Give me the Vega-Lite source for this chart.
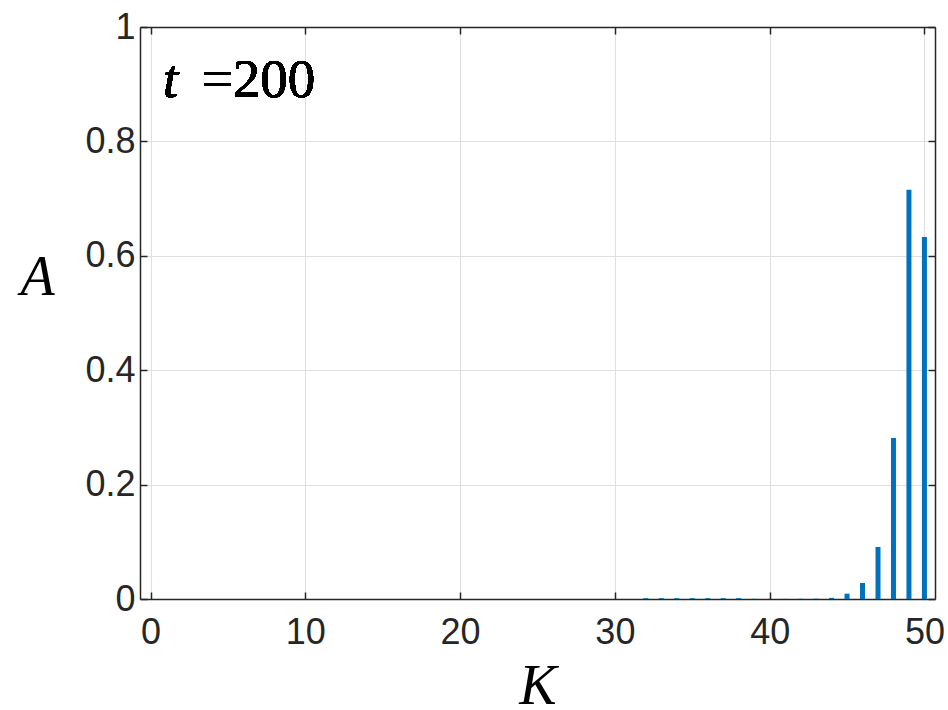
{
  "$schema": "https://vega.github.io/schema/vega-lite/v6.json",
  "autosize": "none",
  "width": 795,
  "height": 572,
  "padding": {"left": 140, "top": 27, "right": 13, "bottom": 111},
  "background": "white",
  "config": {
    "view": {"stroke": null},
    "axis": {
      "labelFont": "Liberation Sans",
      "labelFontSize": 36,
      "labelColor": "#262626",
      "domainColor": "#262626",
      "domainWidth": 1.5,
      "tickColor": "#262626",
      "tickWidth": 1.5,
      "tickSize": -7,
      "gridColor": "#dfdfdf",
      "gridWidth": 1,
      "titleFont": "Liberation Serif",
      "titleFontStyle": "italic",
      "titleFontWeight": "normal",
      "titleFontSize": 56,
      "titleColor": "#000000"
    }
  },
  "data": {"values": [
    {"K": 1, "A": 0}, {"K": 2, "A": 0}, {"K": 3, "A": 0}, {"K": 4, "A": 0}, {"K": 5, "A": 0},
    {"K": 6, "A": 0}, {"K": 7, "A": 0}, {"K": 8, "A": 0}, {"K": 9, "A": 0}, {"K": 10, "A": 0},
    {"K": 11, "A": 0}, {"K": 12, "A": 0}, {"K": 13, "A": 0}, {"K": 14, "A": 0}, {"K": 15, "A": 0},
    {"K": 16, "A": 0}, {"K": 17, "A": 0}, {"K": 18, "A": 0}, {"K": 19, "A": 0}, {"K": 20, "A": 0},
    {"K": 21, "A": 0}, {"K": 22, "A": 0}, {"K": 23, "A": 0}, {"K": 24, "A": 0}, {"K": 25, "A": 0},
    {"K": 26, "A": 0}, {"K": 27, "A": 0}, {"K": 28, "A": 0}, {"K": 29, "A": 0}, {"K": 30, "A": 0},
    {"K": 31, "A": 0}, {"K": 32, "A": 0.0015}, {"K": 33, "A": 0.0015}, {"K": 34, "A": 0.0015},
    {"K": 35, "A": 0.0015}, {"K": 36, "A": 0.0015}, {"K": 37, "A": 0.0015}, {"K": 38, "A": 0.0015},
    {"K": 39, "A": 0.0003}, {"K": 40, "A": 0.0002}, {"K": 41, "A": 0.0002}, {"K": 42, "A": 0.0003},
    {"K": 43, "A": 0.0005}, {"K": 44, "A": 0.002}, {"K": 45, "A": 0.0093}, {"K": 46, "A": 0.028},
    {"K": 47, "A": 0.091}, {"K": 48, "A": 0.2815}, {"K": 49, "A": 0.7156}, {"K": 50, "A": 0.633}
  ]},
  "resolve": {"axis": {"x": "independent", "y": "independent"}},
  "layer": [
    {
      "mark": {"type": "bar", "color": "#0072BD", "size": 5},
      "encoding": {
        "x": {
          "field": "K", "type": "quantitative",
          "scale": {"domain": [-0.36, 50.36], "nice": false, "zero": false},
          "axis": {
            "values": [0, 10, 20, 30, 40, 50],
            "title": "K",
            "labelPadding": 23,
            "titleY": 104,
            "titleBaseline": "alphabetic",
            "grid": true
          }
        },
        "y": {
          "field": "A", "type": "quantitative",
          "scale": {"domain": [0, 1], "nice": false},
          "axis": {
            "values": [0, 0.2, 0.4, 0.6, 0.8, 1],
            "labelExpr": "datum.value == 0 ? '0' : datum.value == 1 ? '1' : format(datum.value, '.1f')",
            "title": "A",
            "titleAngle": 0,
            "titleAlign": "center",
            "titleX": -103,
            "titleY": 267,
            "titleBaseline": "alphabetic",
            "labelPadding": 12,
            "grid": true
          }
        }
      }
    },
    {
      "mark": {"type": "rule", "opacity": 0},
      "encoding": {
        "x": {
          "datum": 0, "type": "quantitative",
          "axis": {"orient": "top", "values": [0, 10, 20, 30, 40, 50], "labels": false, "title": null, "grid": false}
        },
        "y": {
          "datum": 0, "type": "quantitative",
          "axis": {"orient": "right", "values": [0, 0.2, 0.4, 0.6, 0.8, 1], "labels": false, "title": null, "grid": false}
        }
      }
    },
    {
      "mark": {"type": "text", "font": "Liberation Serif", "fontStyle": "italic", "fontSize": 55, "align": "left", "baseline": "alphabetic", "color": "#000000"},
      "encoding": {
        "x": {"datum": 0.8, "type": "quantitative", "axis": null},
        "y": {"datum": 0.878, "type": "quantitative", "axis": null},
        "text": {"value": "t"}
      }
    },
    {
      "mark": {"type": "text", "font": "Liberation Serif", "fontSize": 55, "align": "left", "baseline": "alphabetic", "color": "#000000"},
      "encoding": {
        "x": {"datum": 3.3, "type": "quantitative", "axis": null},
        "y": {"datum": 0.878, "type": "quantitative", "axis": null},
        "text": {"value": "=200"}
      }
    }
  ]
}
